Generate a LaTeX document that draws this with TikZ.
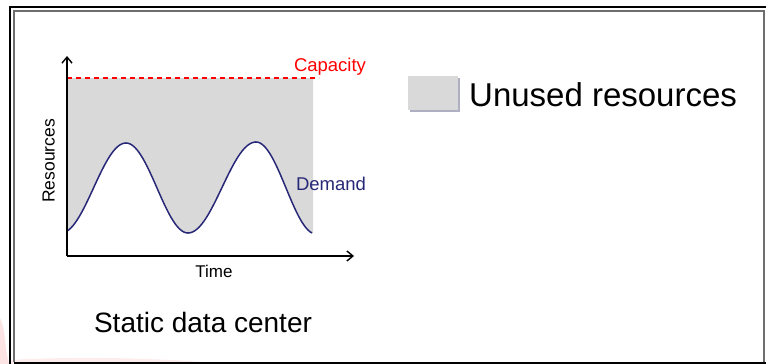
\documentclass[tikz,border=0pt]{standalone}
\usepackage{fontspec}
\setmainfont{Liberation Sans}
\usetikzlibrary{arrows.meta}
\definecolor{unused}{RGB}{217,217,217}
\definecolor{demandc}{RGB}{40,40,120}
\definecolor{capred}{RGB}{255,0,0}
\definecolor{framegray}{RGB}{110,110,110}
\definecolor{shadowc}{RGB}{175,175,195}
\definecolor{pinkbg}{RGB}{252,228,228}
\tikzset{
  axis/.style={line width=1.6pt,-{Straight Barb[length=6pt,width=10pt,line width=1.4pt]}},
  lbl/.style={inner sep=0pt,anchor=base},
  demandline/.style={demandc,line width=1.5pt},
}
\begin{document}
\begin{tikzpicture}[x=1pt,y=-1pt]
\useasboundingbox (0,0) rectangle (766,364);
\fill[white] (0,0) rectangle (766,364);
% faint background tint
\fill[pinkbg] (0,318) .. controls (6,330) and (4,345) .. (9,364) -- (0,364) -- cycle;
\fill[pinkbg,opacity=0.7] (10,360) .. controls (80,356) and (160,358) .. (230,364) -- (10,364) -- cycle;
% frame
\draw[line width=2pt,black] (9.5,364) -- (9.5,6.5) -- (766,6.5);
\draw[line width=1.5pt,framegray] (14,362) -- (14,11) -- (764,11) -- (764,362);
\draw[line width=2pt,black] (14,362.5) -- (766,362.5);
% unused area
\fill[unused] (67,78)
  -- plot[domain=67:126,samples=30,variable=\x] ({\x},{233+(143-233)*(1-cos(180*(\x-61)/65))/2})
  -- plot[domain=126:188,samples=30,variable=\x] ({\x},{143+(233-143)*(1-cos(180*(\x-126)/62))/2})
  -- plot[domain=188:256,samples=30,variable=\x] ({\x},{233+(142-233)*(1-cos(180*(\x-188)/68))/2})
  -- plot[domain=256:313,samples=30,variable=\x] ({\x},{142+(234-142)*(1-cos(180*(\x-256)/60))/2})
  -- (313,78) -- cycle;
% demand curve
\draw[demandline]
  plot[domain=67:126,samples=30,variable=\x] ({\x},{233+(143-233)*(1-cos(180*(\x-61)/65))/2})
  -- plot[domain=126:188,samples=30,variable=\x] ({\x},{143+(233-143)*(1-cos(180*(\x-126)/62))/2})
  -- plot[domain=188:256,samples=30,variable=\x] ({\x},{233+(142-233)*(1-cos(180*(\x-188)/68))/2})
  -- plot[domain=256:312,samples=30,variable=\x] ({\x},{142+(234-142)*(1-cos(180*(\x-256)/60))/2});
% capacity
\coordinate (capL) at (67,78);
\coordinate (capR) at (319,78);
\draw[capred,line width=1.6pt,dash pattern=on 5pt off 4pt] (capL) -- (capR);
% axes
\coordinate (origin) at (67,256);
\coordinate (ytop) at (67,56);
\coordinate (xend) at (354,256);
\draw[axis] (origin) -- (ytop);
\draw[axis] (origin) -- (xend);
% labels
\node[lbl,text=capred,font=\fontsize{18.5}{20}\selectfont] (cap) at (330,71) {Capacity};
\node[lbl,text=demandc,font=\fontsize{18.5}{20}\selectfont] (dem) at (331,190.5) {Demand};
\node[lbl,rotate=90,font=\fontsize{17.5}{19}\selectfont] (res) at (54.5,161) {Resources};
\node[lbl,font=\fontsize{17}{19}\selectfont] (time) at (214,277.5) {Time};
\node[lbl,font=\fontsize{28}{30}\selectfont] (title) at (203,332.5) {Static data center};
% legend
\fill[shadowc] (410,78) rectangle (460,112);
\node[fill=unused,minimum width=50pt,minimum height=34pt,inner sep=0pt,anchor=north west] (legbox) at (408,76) {};
\node[lbl,font=\fontsize{33}{36}\selectfont,anchor=base west] (legtext) at (469,106) {Unused resources};
\end{tikzpicture}
\end{document}
